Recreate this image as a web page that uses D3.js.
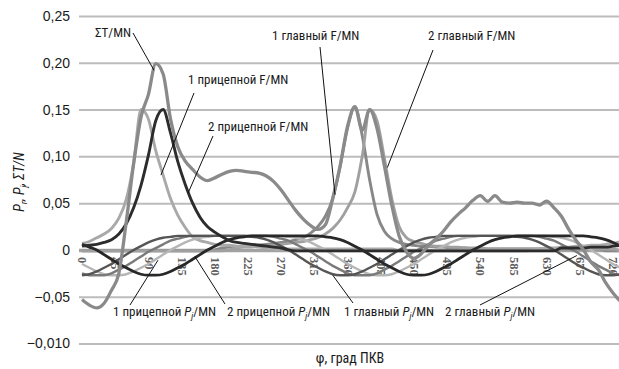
<!DOCTYPE html>
<html><head><meta charset="utf-8">
<script src="https://cdn.jsdelivr.net/npm/d3@7"></script>
<style>
body{margin:0;background:#fff;}
svg{display:block;font-family:"Liberation Sans Narrow","Arial Narrow","Roboto Condensed","Liberation Sans",sans-serif;}
</style></head><body>
<svg id="c" width="619" height="369"></svg>
<script>
// crank angle, degrees
const angles = [0,10,20,30,40,50,60,70,80,90,100,110,120,130,140,150,160,170,180,190,200,210,220,230,240,250,260,270,280,290,300,310,320,330,340,350,360,370,380,390,400,410,420,430,440,450,460,470,480,490,500,510,520,530,540,550,560,570,580,590,600,610,620,630,640,650,660,670,680,690,700,710,720,730];
const tickAngles = [0,45,90,135,180,225,270,315,360,405,450,495,540,585,630,675,720];
const tickLabels = ["0","45","90","135","180","225","270","315","360","405","450","495","540","585","630","675","720"];
const yTicks = [0.25,0.20,0.15,0.10,0.05,0,-0.05,-0.10];
const yTickLabels = ["0,25","0,20","0,15","0,10","0,05","0","\u22120,05","\u22120,010"];

const sumT = [-0.053,-0.059,-0.062,-0.057,-0.043,-0.025,0.030,0.092,0.142,0.166,
 0.199,0.188,0.140,0.110,0.095,0.086,0.078,0.074,0.077,0.081,
 0.084,0.085,0.084,0.083,0.082,0.079,0.073,0.064,0.053,0.042,
 0.033,0.026,0.022,0.027,0.055,0.090,0.132,0.153,0.128,0.150,
 0.130,0.090,0.048,0.015,-0.002,-0.009,-0.004,0.005,0.012,0.020,
 0.030,0.038,0.045,0.053,0.058,0.052,0.058,0.051,0.050,0.051,
 0.050,0.050,0.048,0.052,0.045,0.036,0.022,0.010,0.000,-0.013,
 -0.021,-0.035,-0.046,-0.055];
const f1Pric = [0.007,0.009,0.013,0.017,0.023,0.034,0.054,0.093,0.150,0.140,
 0.106,0.080,0.055,0.037,0.024,0.014,0.010,0.008,0.006,0.005,
 0.005,0.004,0.004,0.004,0.003,0.002,0.001,0.001,0.001,0.001,
 0.001,0.001,0.001,0.001,0.001,0.001,0.001,0.001,0.001,0.001,
 0.001,0.001,0.001,-0.001,-0.001,-0.001,-0.001,-0.001,-0.001,-0.001,
 -0.001,-0.001,-0.001,-0.001,-0.001,-0.001,-0.001,-0.001,-0.001,-0.001,
 -0.001,0.000,0.001,0.002,0.002,0.003,0.003,0.004,0.004,0.005,
 0.005,0.006,0.007,0.009];
const f2Pric = [0.004,0.005,0.006,0.008,0.011,0.017,0.028,0.045,0.069,0.101,
 0.138,0.150,0.125,0.094,0.070,0.050,0.035,0.025,0.019,0.014,
 0.010,0.008,0.007,0.006,0.005,0.004,0.003,0.002,0.000,-0.001,
 -0.001,-0.001,-0.001,-0.001,-0.001,-0.001,-0.001,-0.001,-0.001,-0.001,
 -0.001,-0.001,-0.001,-0.001,-0.001,-0.001,-0.001,-0.001,-0.001,-0.001,
 -0.001,-0.001,-0.001,-0.001,-0.001,-0.001,-0.001,-0.001,-0.001,-0.001,
 -0.001,-0.001,-0.001,-0.001,-0.001,0.002,0.002,0.002,0.002,0.003,
 0.003,0.003,0.004,0.005];
const f1Glav = [-0.001,-0.001,-0.001,-0.001,-0.001,-0.001,-0.001,-0.001,-0.001,-0.001,
 -0.001,-0.001,-0.001,-0.001,-0.001,-0.001,-0.001,-0.001,0.000,0.002,
 0.003,0.003,0.004,0.004,0.005,0.006,0.007,0.008,0.009,0.011,
 0.013,0.018,0.025,0.036,0.055,0.089,0.130,0.153,0.122,0.075,
 0.038,0.020,0.012,0.008,0.006,0.005,0.004,0.004,0.003,0.003,
 0.002,0.002,0.002,0.001,0.001,0.001,0.001,0.001,0.001,0.001,
 0.001,0.001,0.001,0.001,0.001,0.001,0.001,0.001,0.001,0.001,
 0.001,-0.001,-0.001,-0.001];
const f2Glav = [-0.001,-0.001,-0.001,-0.001,-0.001,-0.001,-0.001,-0.001,-0.001,-0.001,
 -0.001,-0.001,-0.001,-0.001,-0.001,-0.001,-0.001,-0.001,-0.001,-0.001,
 0.000,0.002,0.003,0.003,0.004,0.004,0.005,0.006,0.007,0.008,
 0.009,0.011,0.013,0.017,0.023,0.032,0.045,0.062,0.100,0.150,
 0.138,0.098,0.055,0.025,0.013,0.009,0.007,0.005,0.004,0.004,
 0.003,0.003,0.002,0.002,0.002,0.001,0.001,0.001,0.001,0.001,
 0.001,0.001,0.001,0.001,0.001,0.001,0.001,0.001,0.001,0.001,
 0.001,0.001,0.001,-0.001];
const pj1Pric = [-0.015,-0.019,-0.023,-0.026,-0.027,-0.027,-0.026,-0.023,-0.019,-0.015,
 -0.010,-0.005,0.000,0.004,0.008,0.011,0.013,0.014,0.015,0.015,
 0.015,0.015,0.015,0.015,0.015,0.015,0.015,0.015,0.014,0.013,
 0.011,0.008,0.004,0.000,-0.005,-0.010,-0.015,-0.019,-0.023,-0.026,
 -0.027,-0.027,-0.026,-0.023,-0.019,-0.015,-0.010,-0.005,0.000,0.004,
 0.008,0.011,0.013,0.014,0.015,0.015,0.015,0.015,0.015,0.015,
 0.015,0.015,0.015,0.015,0.014,0.013,0.011,0.008,0.004,0.000,
 -0.005,-0.010,-0.015,-0.019];
const pj2Pric = [0.006,0.003,0.000,-0.005,-0.010,-0.015,-0.019,-0.023,-0.026,-0.027,
 -0.027,-0.026,-0.023,-0.019,-0.015,-0.010,-0.005,0.000,0.004,0.008,
 0.011,0.013,0.014,0.015,0.015,0.015,0.015,0.015,0.015,0.015,
 0.015,0.015,0.015,0.014,0.013,0.011,0.008,0.004,0.000,-0.005,
 -0.010,-0.015,-0.019,-0.023,-0.026,-0.027,-0.027,-0.026,-0.023,-0.019,
 -0.015,-0.010,-0.005,0.000,0.004,0.008,0.011,0.013,0.014,0.015,
 0.015,0.015,0.015,0.015,0.015,0.015,0.015,0.015,0.015,0.014,
 0.013,0.011,0.008,0.004];
const pj1Glav = [-0.027,-0.026,-0.023,-0.019,-0.015,-0.010,-0.005,0.000,0.004,0.008,
 0.011,0.013,0.014,0.015,0.015,0.015,0.015,0.015,0.015,0.015,
 0.015,0.015,0.015,0.014,0.013,0.011,0.008,0.004,0.000,-0.005,
 -0.010,-0.015,-0.019,-0.023,-0.026,-0.027,-0.027,-0.026,-0.023,-0.019,
 -0.015,-0.010,-0.005,0.000,0.004,0.008,0.011,0.013,0.014,0.015,
 0.015,0.015,0.015,0.015,0.015,0.015,0.015,0.015,0.015,0.014,
 0.013,0.011,0.008,0.004,0.000,-0.005,-0.010,-0.015,-0.019,-0.023,
 -0.026,-0.027,-0.027,-0.026];
const pj2Glav = [-0.025,-0.027,-0.027,-0.027,-0.025,-0.021,-0.017,-0.012,-0.007,-0.002,
 0.002,0.006,0.010,0.012,0.014,0.015,0.015,0.015,0.015,0.015,
 0.015,0.015,0.015,0.015,0.015,0.015,0.014,0.012,0.010,0.006,
 0.002,-0.002,-0.007,-0.012,-0.017,-0.021,-0.025,-0.027,-0.027,-0.027,
 -0.025,-0.021,-0.017,-0.012,-0.007,-0.002,0.002,0.006,0.010,0.012,
 0.014,0.015,0.015,0.015,0.015,0.015,0.015,0.015,0.015,0.015,
 0.015,0.015,0.014,0.012,0.010,0.006,0.002,-0.002,-0.007,-0.012,
 -0.017,-0.021,-0.025,-0.027];

const series = [
  {values: f1Glav,  color: "#888888", w: 2.9},
  {values: f2Glav,  color: "#a0a0a0", w: 2.9},
  {values: f1Pric,  color: "#a9a9a9", w: 2.9},
  {values: pj1Pric, color: "#b6b6b6", w: 2.4},
  {values: pj2Glav, color: "#7a7a7a", w: 2.4},
  {values: pj1Glav, color: "#555555", w: 2.4},
  {values: pj2Pric, color: "#282828", w: 2.8},
  {values: f2Pric,  color: "#2c2c2c", w: 2.9},
  {values: sumT,    color: "#8a8a8a", w: 3.3}
];

const svg = d3.select("#c");
const x = d3.scaleLinear().domain([0,720]).range([82,613]);
const y = d3.scaleLinear().domain([-0.10,0.25]).range([343.5,16]);

// y axis with gridlines
const yAxis = d3.axisLeft(y).tickValues(yTicks)
  .tickFormat((d,i)=>yTickLabels[i]).tickSize(-545).tickPadding(9);
const gy = svg.append("g").attr("transform","translate(79,0)").call(yAxis);
gy.select(".domain").remove();
gy.selectAll(".tick line").attr("stroke", d => d===0 ? "#a2a2a2" : "#bcbcbc")
  .attr("stroke-width", d => d===0 ? 3.5 : 2);
gy.selectAll(".tick text").attr("fill","#1a1a1a").style("font-size","14px")
  .style("font-family","inherit");

// x axis labels (rotated)
const xAxis = d3.axisBottom(x).tickValues(tickAngles)
  .tickFormat((d,i)=>tickLabels[i]).tickSize(0);
const gx = svg.append("g").attr("transform",`translate(0,${y(0)})`).call(xAxis);
gx.select(".domain").remove();
gx.selectAll(".tick text")
  .attr("transform","rotate(90)").attr("x",7).attr("y",0).attr("dy","0.35em")
  .style("text-anchor","start").style("font-family","'Liberation Serif',serif")
  .style("font-weight","bold").style("font-size","12.5px").attr("fill","#5e5e5e");

// series
const line = d3.line().x((d,i)=>x(angles[i])).y(d=>y(d)).curve(d3.curveMonotoneX);
svg.append("g").selectAll("path").data(series).join("path")
  .attr("d", s=>line(s.values)).attr("fill","none")
  .attr("stroke", s=>s.color).attr("stroke-width", s=>s.w)
  .attr("stroke-linejoin","round");

// annotations: label position in px, leader target in data space
const notes = [
  {parts:[["ΣT/MN"]], tx:95, ty:37, lx:133, ly:33, a:97.6, v:0.192},
  {parts:[["1 прицепной F/MN"]], tx:188, ty:84, lx:194, ly:93, a:107, v:0.080},
  {parts:[["2 прицепной F/MN"]], tx:208, ty:131, lx:213, ly:136, a:144, v:0.061},
  {parts:[["1 главный F/MN"]], tx:272, ty:40, lx:320, ly:47, a:343, v:0.059},
  {parts:[["2 главный F/MN"]], tx:428, ty:40, lx:433, ly:50, a:414, v:0.088},
  {parts:[["1 прицепной "],["P","i"],["j","s"],["/MN"]], tx:113, ty:316, lx:130, ly:305, a:103, v:-0.011},
  {parts:[["2 прицепной "],["P","i"],["j","s"],["/MN"]], tx:227, ty:316, lx:225, ly:304, a:153, v:-0.007},
  {parts:[["1 главный "],["P","i"],["j","s"],["/MN"]], tx:344, ty:316, lx:353, ly:303, a:340, v:-0.027},
  {parts:[["2 главный "],["P","i"],["j","s"],["/MN"]], tx:445, ty:316, lx:480, ly:305, a:671, v:-0.006}
];
const ann = svg.append("g");
notes.forEach(n=>{
  ann.append("line").attr("x1",n.lx).attr("y1",n.ly).attr("x2",x(n.a)).attr("y2",y(n.v))
    .attr("stroke","#111").attr("stroke-width",1);
  const t = ann.append("text").attr("x",n.tx).attr("y",n.ty).attr("fill","#1a1a1a")
    .style("font-size","13px");
  n.parts.forEach(p=>{
    const ts = t.append("tspan").text(p[0]);
    if (p[1]==="i") ts.style("font-style","italic");
    if (p[1]==="s") ts.style("font-style","italic").style("font-size","9px").attr("dy",3);
    if (p[0]==="/MN") ts.attr("dy",-3);
  });
});

// axis titles
const yt = svg.append("text").attr("transform","translate(24,182) rotate(-90)")
  .attr("text-anchor","middle").attr("fill","#1a1a1a").style("font-size","14px").style("font-style","italic");
yt.append("tspan").text("P");
yt.append("tspan").text("г").style("font-size","9px").attr("dy",3);
yt.append("tspan").text(", P").attr("dy",-3);
yt.append("tspan").text("j").style("font-size","9px").attr("dy",3);
yt.append("tspan").text(", ΣT/N").attr("dy",-3);

svg.append("text").attr("x",350).attr("y",363).attr("text-anchor","middle")
  .attr("fill","#1a1a1a").style("font-size","14px").text("φ, град ПКВ");
</script>
</body></html>
